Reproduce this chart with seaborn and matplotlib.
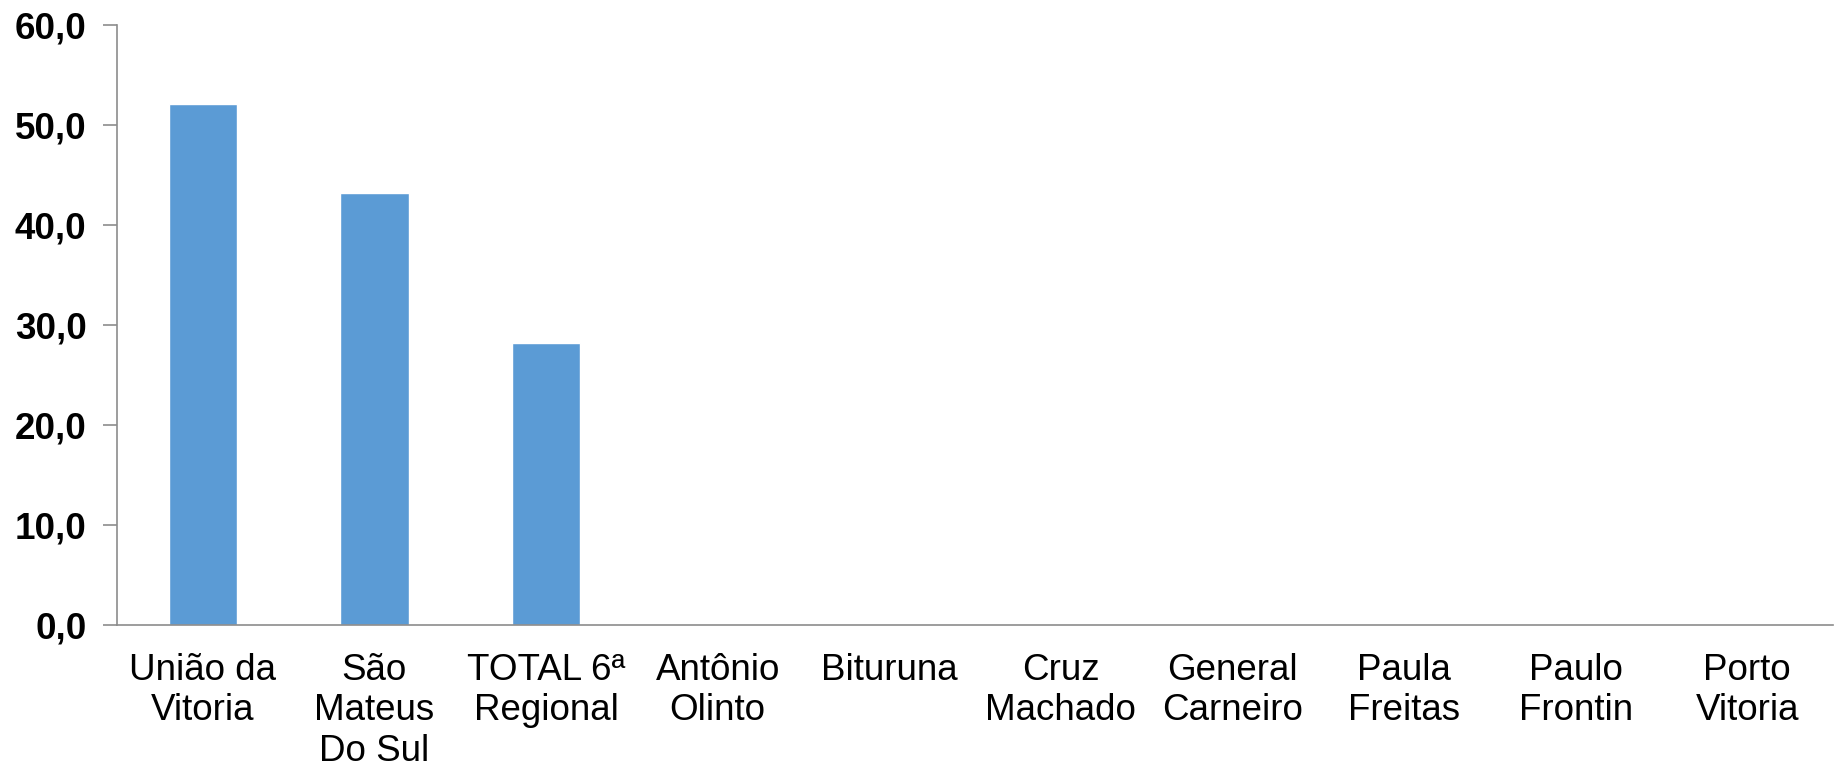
import matplotlib
matplotlib.use("Agg")
import matplotlib.pyplot as plt
import seaborn as sns
import numpy as np
import pandas as pd

categories = ["União da\nVitoria", "São\nMateus\nDo Sul", "TOTAL 6ª\nRegional", "Antônio\nOlinto",
              "Bituruna", "Cruz\nMachado", "General\nCarneiro", "Paula\nFreitas", "Paulo\nFrontin",
              "Porto\nVitoria"]
values = [52.1, 43.2, 28.2, 0, 0, 0, 0, 0, 0, 0]
yticks = [0, 10, 20, 30, 40, 50, 60]
ytick_labels = ["0,0", "10,0", "20,0", "30,0", "40,0", "50,0", "60,0"]

sns.set_style("white")
plt.rcParams['font.family'] = ['Liberation Sans', 'DejaVu Sans']
plt.rcParams['text.color'] = 'black'
plt.rcParams['xtick.color'] = 'black'
plt.rcParams['ytick.color'] = 'black'

df = pd.DataFrame({"cat": categories, "val": values})
fig = plt.figure(figsize=(18.4, 7.72), dpi=100)
ax = fig.add_axes([0.0636, 0.1904, 0.9326, 0.7772])
sns.barplot(data=df, x="cat", y="val", color="#5B9BD5", width=0.4, ax=ax, saturation=1)

ax.set_ylim(0, 60)
ax.set_xlim(-0.5, len(categories) - 0.5)
ax.set_yticks(yticks)
ax.set_yticklabels(ytick_labels, fontsize=26.5, fontweight="bold", color="black")
ax.set_xlabel("")
ax.set_ylabel("")
ax.tick_params(axis="x", which="major", length=0, labelsize=26.5, pad=20, labelcolor="black")
ax.set_xticks(np.arange(-0.5, len(categories), 1.0), minor=True)
ax.tick_params(axis="x", which="minor", length=12, width=1.2, color="#8c8c8c", direction="out")
ax.tick_params(axis="y", length=10, width=1.2, color="#8c8c8c", direction="out", left=True, pad=12)
for lbl in ax.get_xticklabels():
    lbl.set_linespacing(1.2)
for s in ["top", "right"]:
    ax.spines[s].set_visible(False)
for s in ["left", "bottom"]:
    ax.spines[s].set_color("#8c8c8c")
    ax.spines[s].set_linewidth(1.2)

fig.savefig("out.png", dpi=100)
